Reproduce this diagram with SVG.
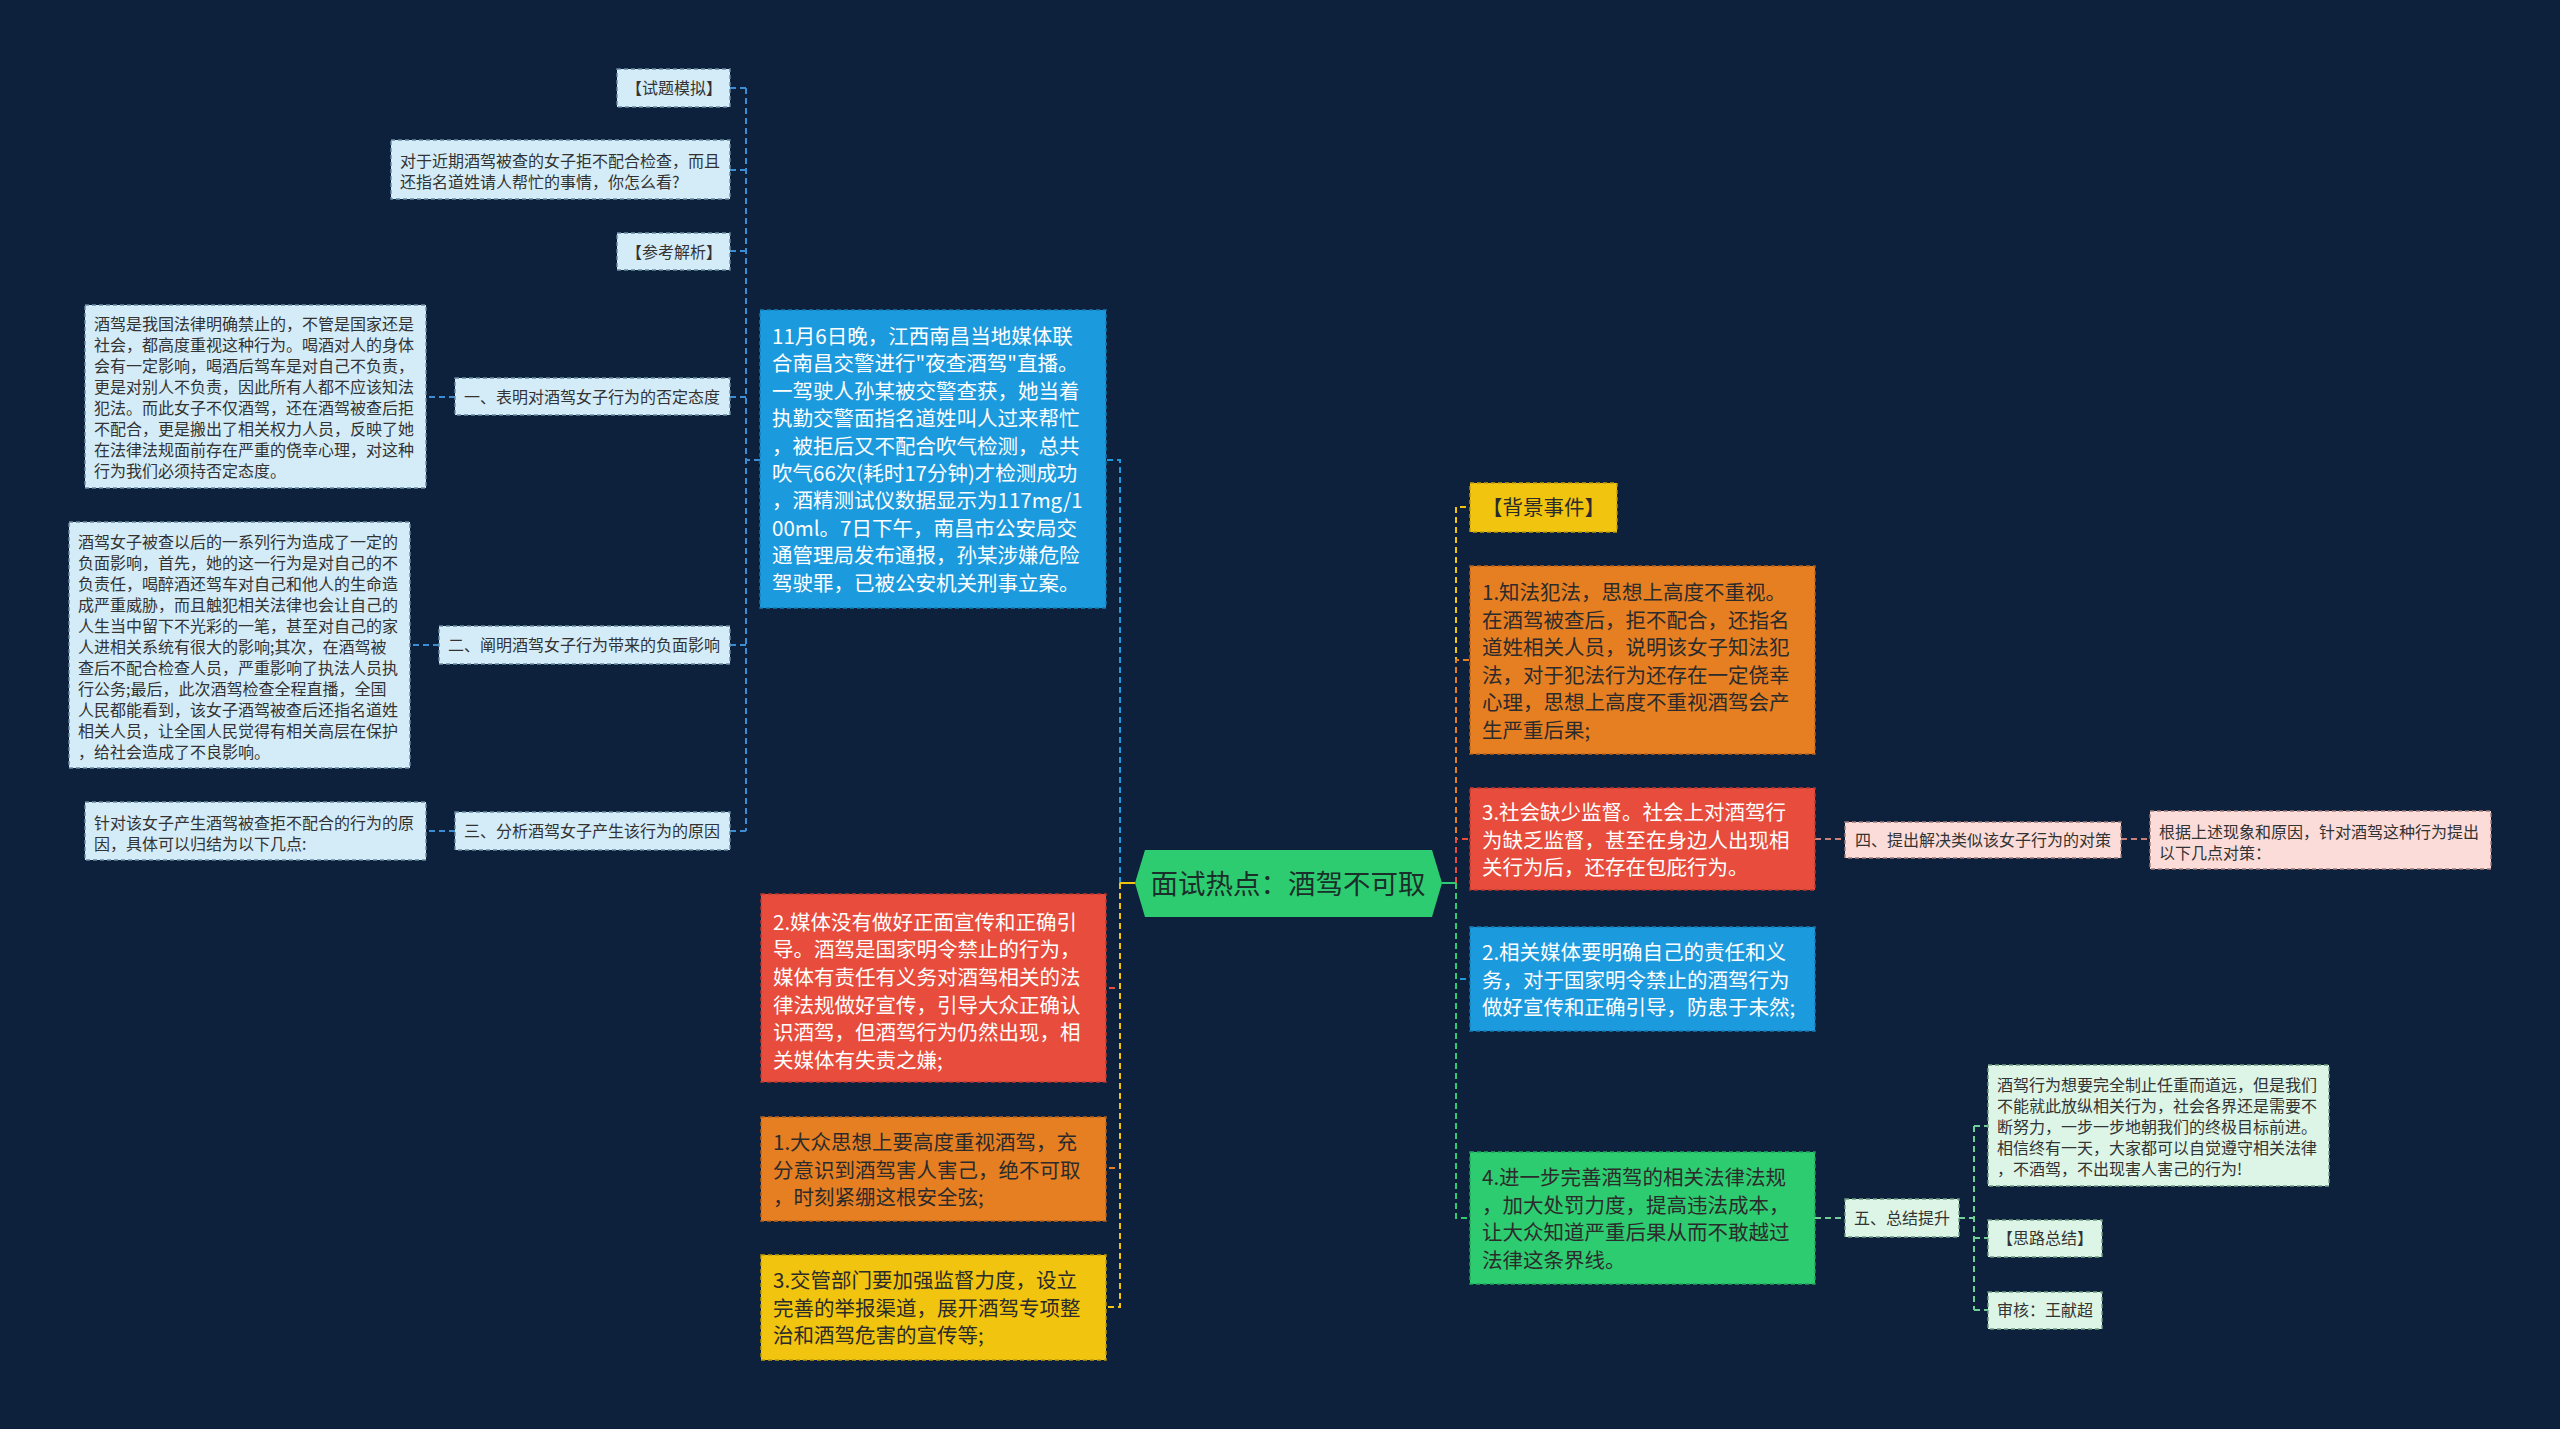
<svg xmlns="http://www.w3.org/2000/svg" width="2560" height="1429" viewBox="0 0 2560 1429">
<style>
text{font-family:"Noto Sans CJK SC","Noto Sans",sans-serif;}
.s{font-size:16px;fill:#333;}
.b{font-size:20.5px;}
.w{fill:#ffffff;}
.d{fill:#2b2b2b;}
.lb{fill:#d4ecf8;stroke:#6a8aa0;stroke-width:1.4;stroke-dasharray:4 3;}
.lp{fill:#fbdcd9;stroke:#a07a76;stroke-width:1.4;stroke-dasharray:4 3;}
.lg{fill:#dcf5e6;stroke:#6f9c80;stroke-width:1.4;stroke-dasharray:4 3;}
.nb{fill:#1c9ade;stroke:#157cb4;stroke-width:1.4;stroke-dasharray:4 3;}
.nr{fill:#e74c3c;stroke:#b8392c;stroke-width:1.4;stroke-dasharray:4 3;}
.no{fill:#e67e22;stroke:#b5621a;stroke-width:1.4;stroke-dasharray:4 3;}
.ny{fill:#f1c40f;stroke:#bf9b0b;stroke-width:1.4;stroke-dasharray:4 3;}
.ng{fill:#2ecc71;stroke:#23a25a;stroke-width:1.4;stroke-dasharray:4 3;}
.c{fill:none;stroke-width:2;stroke-dasharray:6 4;}
.cs{fill:none;stroke-width:2;}
</style>
<rect x="0" y="0" width="2560" height="1429" fill="#0d213d"/>

<g id="connectors">
  <!-- left of root -->
  <path class="c" stroke="#1c9ade" d="M1120 883 V460 H1106"/>
  <path class="c" stroke="#e74c3c" d="M1120 883 V988 H1106"/>
  <path class="c" stroke="#e67e22" d="M1120 883 V1168 H1106"/>
  <path class="c" stroke="#f1c40f" d="M1120 883 V1307 H1106"/>
  <path class="cs" stroke="#f1c40f" d="M1135 883 H1120"/>
  <!-- blue box children -->
  <path class="c" stroke="#3b8ed4" d="M760 460 H746"/>
  <path class="c" stroke="#3b8ed4" d="M746 88 V831"/>
  <path class="c" stroke="#3b8ed4" d="M746 88 H730 M746 170 H730 M746 251 H730 M746 397 H730 M746 645 H730 M746 831 H730"/>
  <path class="c" stroke="#3b8ed4" d="M455 397 H426 M439 645 H410 M455 831 H426"/>
  <!-- right of root -->
  <path class="c" stroke="#f1c40f" d="M1456 883 V507 H1470"/>
  <path class="c" stroke="#e67e22" d="M1456 883 V660 H1470"/>
  <path class="c" stroke="#e74c3c" d="M1456 883 V839 H1470"/>
  <path class="c" stroke="#1c9ade" d="M1456 883 V979 H1470"/>
  <path class="c" stroke="#2ecc71" d="M1456 883 V1218 H1470"/>
  <path class="cs" stroke="#2ecc71" d="M1442 883 H1456"/>
  <!-- red -> 四 -> 根据 -->
  <path class="c" stroke="#c98078" d="M1815 839 H1845 M2121 839 H2150"/>
  <!-- green -> 五 -> children -->
  <path class="c" stroke="#6fcf97" d="M1815 1218 H1845 M1959 1218 H1974 M1974 1126 V1310 M1974 1126 H1988 M1974 1238 H1988 M1974 1310 H1988"/>
</g>

<g id="root">
  <polygon points="1135,883 1145,850 1432,850 1442,883 1432,917 1145,917" fill="#2ecc71"/>
  <text x="1288" y="893.5" text-anchor="middle" style="font-size:27.5px;fill:#1b2f2a">面试热点：酒驾不可取</text>
</g>

<g id="n-news">
  <rect class="nb" x="760" y="310" width="346" height="298"/>
  <text class="b w" x="772">
    <tspan x="772" y="344">11月6日晚，江西南昌当地媒体联</tspan>
    <tspan x="772" y="371.4">合南昌交警进行"夜查酒驾"直播。</tspan>
    <tspan x="772" y="398.8">一驾驶人孙某被交警查获，她当着</tspan>
    <tspan x="772" y="426.2">执勤交警面指名道姓叫人过来帮忙</tspan>
    <tspan x="772" y="453.6">，被拒后又不配合吹气检测，总共</tspan>
    <tspan x="772" y="481">吹气66次(耗时17分钟)才检测成功</tspan>
    <tspan x="772" y="508.4">，酒精测试仪数据显示为117mg/1</tspan>
    <tspan x="772" y="535.8">00ml。7日下午，南昌市公安局交</tspan>
    <tspan x="772" y="563.2">通管理局发布通报，孙某涉嫌危险</tspan>
    <tspan x="772" y="590.6">驾驶罪，已被公安机关刑事立案。</tspan>
  </text>
</g>

<g id="n-shiti">
  <rect class="lb" x="617" y="69" width="113" height="38"/>
  <text class="s" x="626" y="94">【试题模拟】</text>
</g>
<g id="n-question">
  <rect class="lb" x="391" y="140" width="339" height="59"/>
  <text class="s"><tspan x="400" y="167">对于近期酒驾被查的女子拒不配合检查，而且</tspan><tspan x="400" y="188">还指名道姓请人帮忙的事情，你怎么看?</tspan></text>
</g>
<g id="n-cankao">
  <rect class="lb" x="617" y="233" width="113" height="37"/>
  <text class="s" x="626" y="257.5">【参考解析】</text>
</g>
<g id="n-one">
  <rect class="lb" x="455" y="378" width="275" height="37"/>
  <text class="s" x="464" y="402.5">一、表明对酒驾女子行为的否定态度</text>
</g>
<g id="n-one-detail">
  <rect class="lb" x="85" y="305" width="341" height="183"/>
  <text class="s">
    <tspan x="94" y="330">酒驾是我国法律明确禁止的，不管是国家还是</tspan>
    <tspan x="94" y="351">社会，都高度重视这种行为。喝酒对人的身体</tspan>
    <tspan x="94" y="372">会有一定影响，喝酒后驾车是对自己不负责，</tspan>
    <tspan x="94" y="393">更是对别人不负责，因此所有人都不应该知法</tspan>
    <tspan x="94" y="414">犯法。而此女子不仅酒驾，还在酒驾被查后拒</tspan>
    <tspan x="94" y="435">不配合，更是搬出了相关权力人员，反映了她</tspan>
    <tspan x="94" y="456">在法律法规面前存在严重的侥幸心理，对这种</tspan>
    <tspan x="94" y="477">行为我们必须持否定态度。</tspan>
  </text>
</g>
<g id="n-two">
  <rect class="lb" x="439" y="626" width="291" height="38"/>
  <text class="s" x="448" y="651">二、阐明酒驾女子行为带来的负面影响</text>
</g>
<g id="n-two-detail">
  <rect class="lb" x="69" y="522" width="341" height="246"/>
  <text class="s">
    <tspan x="78" y="548">酒驾女子被查以后的一系列行为造成了一定的</tspan>
    <tspan x="78" y="569">负面影响，首先，她的这一行为是对自己的不</tspan>
    <tspan x="78" y="590">负责任，喝醉酒还驾车对自己和他人的生命造</tspan>
    <tspan x="78" y="611">成严重威胁，而且触犯相关法律也会让自己的</tspan>
    <tspan x="78" y="632">人生当中留下不光彩的一笔，甚至对自己的家</tspan>
    <tspan x="78" y="653">人进相关系统有很大的影响;其次，在酒驾被</tspan>
    <tspan x="78" y="674">查后不配合检查人员，严重影响了执法人员执</tspan>
    <tspan x="78" y="695">行公务;最后，此次酒驾检查全程直播，全国</tspan>
    <tspan x="78" y="716">人民都能看到，该女子酒驾被查后还指名道姓</tspan>
    <tspan x="78" y="737">相关人员，让全国人民觉得有相关高层在保护</tspan>
    <tspan x="78" y="758">，给社会造成了不良影响。</tspan>
  </text>
</g>
<g id="n-three">
  <rect class="lb" x="455" y="812" width="275" height="38"/>
  <text class="s" x="464" y="837">三、分析酒驾女子产生该行为的原因</text>
</g>
<g id="n-three-detail">
  <rect class="lb" x="85" y="802" width="341" height="58"/>
  <text class="s"><tspan x="94" y="829">针对该女子产生酒驾被查拒不配合的行为的原</tspan><tspan x="94" y="850">因，具体可以归结为以下几点:</tspan></text>
</g>

<g id="n-media-left">
  <rect class="nr" x="761" y="894" width="345" height="188"/>
  <text class="b w">
    <tspan x="773" y="929.5">2.媒体没有做好正面宣传和正确引</tspan>
    <tspan x="773" y="957.2">导。酒驾是国家明令禁止的行为，</tspan>
    <tspan x="773" y="984.9">媒体有责任有义务对酒驾相关的法</tspan>
    <tspan x="773" y="1012.6">律法规做好宣传，引导大众正确认</tspan>
    <tspan x="773" y="1040.3">识酒驾，但酒驾行为仍然出现，相</tspan>
    <tspan x="773" y="1068">关媒体有失责之嫌;</tspan>
  </text>
</g>
<g id="n-public">
  <rect class="no" x="761" y="1117" width="345" height="104"/>
  <text class="b d">
    <tspan x="773" y="1150">1.大众思想上要高度重视酒驾，充</tspan>
    <tspan x="773" y="1177.5">分意识到酒驾害人害己，绝不可取</tspan>
    <tspan x="773" y="1205">，时刻紧绷这根安全弦;</tspan>
  </text>
</g>
<g id="n-traffic">
  <rect class="ny" x="761" y="1255" width="345" height="105"/>
  <text class="b d">
    <tspan x="773" y="1288">3.交管部门要加强监督力度，设立</tspan>
    <tspan x="773" y="1315.5">完善的举报渠道，展开酒驾专项整</tspan>
    <tspan x="773" y="1343">治和酒驾危害的宣传等;</tspan>
  </text>
</g>

<g id="n-bg">
  <rect class="ny" x="1470" y="483" width="147" height="49"/>
  <text class="b d" x="1482" y="515.3">【背景事件】</text>
</g>
<g id="n-know">
  <rect class="no" x="1470" y="566" width="345" height="188"/>
  <text class="b d">
    <tspan x="1482" y="600">1.知法犯法，思想上高度不重视。</tspan>
    <tspan x="1482" y="627.5">在酒驾被查后，拒不配合，还指名</tspan>
    <tspan x="1482" y="655">道姓相关人员，说明该女子知法犯</tspan>
    <tspan x="1482" y="682.5">法，对于犯法行为还存在一定侥幸</tspan>
    <tspan x="1482" y="710">心理，思想上高度不重视酒驾会产</tspan>
    <tspan x="1482" y="737.5">生严重后果;</tspan>
  </text>
</g>
<g id="n-society">
  <rect class="nr" x="1470" y="788" width="345" height="102"/>
  <text class="b w">
    <tspan x="1482" y="820">3.社会缺少监督。社会上对酒驾行</tspan>
    <tspan x="1482" y="847.5">为缺乏监督，甚至在身边人出现相</tspan>
    <tspan x="1482" y="875">关行为后，还存在包庇行为。</tspan>
  </text>
</g>
<g id="n-media-right">
  <rect class="nb" x="1470" y="927" width="345" height="104"/>
  <text class="b w">
    <tspan x="1482" y="960">2.相关媒体要明确自己的责任和义</tspan>
    <tspan x="1482" y="987.5">务，对于国家明令禁止的酒驾行为</tspan>
    <tspan x="1482" y="1015">做好宣传和正确引导，防患于未然;</tspan>
  </text>
</g>
<g id="n-law">
  <rect class="ng" x="1470" y="1152" width="345" height="132"/>
  <text class="b d">
    <tspan x="1482" y="1185">4.进一步完善酒驾的相关法律法规</tspan>
    <tspan x="1482" y="1212.5">，加大处罚力度，提高违法成本，</tspan>
    <tspan x="1482" y="1240">让大众知道严重后果从而不敢越过</tspan>
    <tspan x="1482" y="1267.5">法律这条界线。</tspan>
  </text>
</g>

<g id="n-four">
  <rect class="lp" x="1845" y="822" width="276" height="36"/>
  <text class="s" x="1855" y="846">四、提出解决类似该女子行为的对策</text>
</g>
<g id="n-four-detail">
  <rect class="lp" x="2150" y="811" width="341" height="58"/>
  <text class="s"><tspan x="2159" y="838">根据上述现象和原因，针对酒驾这种行为提出</tspan><tspan x="2159" y="859">以下几点对策：</tspan></text>
</g>
<g id="n-five">
  <rect class="lg" x="1845" y="1199" width="114" height="38"/>
  <text class="s" x="1854" y="1224">五、总结提升</text>
</g>
<g id="n-five-detail">
  <rect class="lg" x="1988" y="1065" width="341" height="121"/>
  <text class="s">
    <tspan x="1997" y="1091">酒驾行为想要完全制止任重而道远，但是我们</tspan>
    <tspan x="1997" y="1112">不能就此放纵相关行为，社会各界还是需要不</tspan>
    <tspan x="1997" y="1133">断努力，一步一步地朝我们的终极目标前进。</tspan>
    <tspan x="1997" y="1154">相信终有一天，大家都可以自觉遵守相关法律</tspan>
    <tspan x="1997" y="1175">，不酒驾，不出现害人害己的行为!</tspan>
  </text>
</g>
<g id="n-silu">
  <rect class="lg" x="1988" y="1220" width="114" height="37"/>
  <text class="s" x="1997" y="1244">【思路总结】</text>
</g>
<g id="n-shenhe">
  <rect class="lg" x="1988" y="1292" width="114" height="37"/>
  <text class="s" x="1997" y="1316">审核：王献超</text>
</g>
</svg>
